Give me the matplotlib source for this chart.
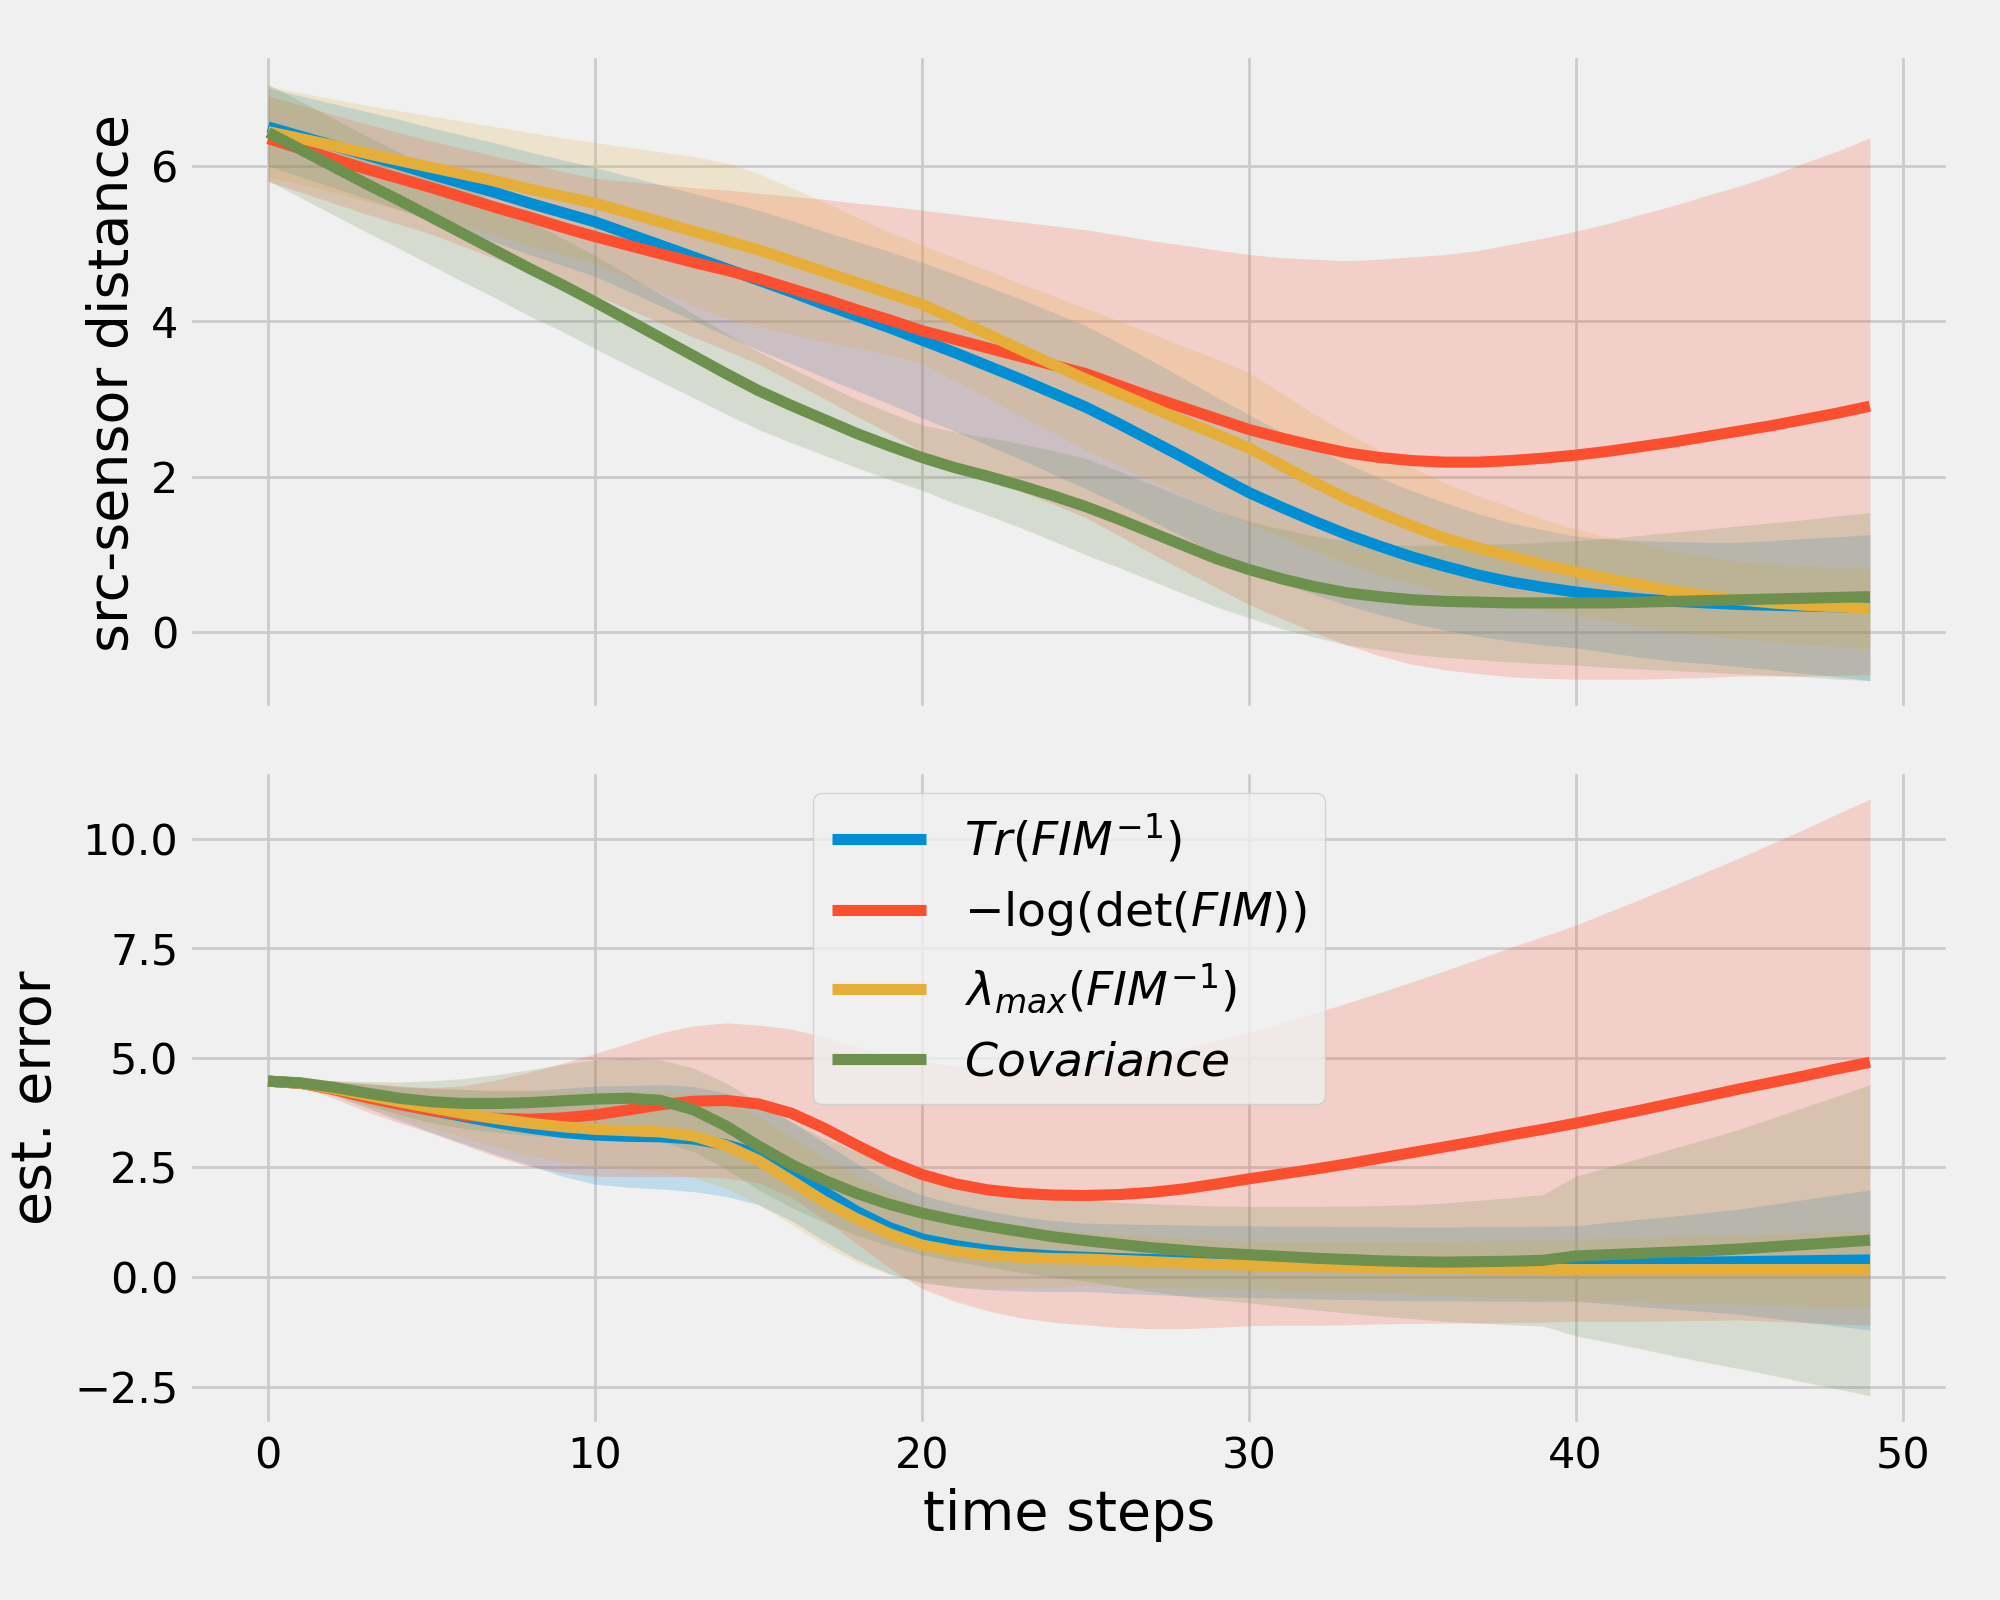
import numpy as np
import matplotlib
matplotlib.use("Agg")
from matplotlib import pyplot as plt

plt.style.use("fivethirtyeight")

###     time axis    ###
steps = np.arange(50)

labels = [r'$Tr(FIM^{-1})$', r'$-\log(\det(FIM))$',
          r'$\lambda_{max}(FIM^{-1})$', r'$Covariance$']

###     src-sensor distance : mean values    ###
dist_tr = [6.50, 6.38, 6.26, 6.14, 6.02, 5.89, 5.77, 5.65, 5.52, 5.40,
           5.28, 5.13, 4.98, 4.83, 4.68, 4.53, 4.38, 4.22, 4.07, 3.92,
           3.76, 3.60, 3.43, 3.26, 3.08, 2.90, 2.69, 2.47, 2.25, 2.02,
           1.80, 1.61, 1.43, 1.26, 1.11, 0.97, 0.85, 0.74, 0.65, 0.58,
           0.52, 0.47, 0.43, 0.40, 0.38, 0.36, 0.35, 0.34, 0.33, 0.32]
dist_det = [6.35, 6.22, 6.09, 5.96, 5.84, 5.72, 5.59, 5.46, 5.34, 5.21,
            5.09, 4.98, 4.87, 4.76, 4.66, 4.55, 4.42, 4.29, 4.15, 4.02,
            3.88, 3.77, 3.66, 3.55, 3.44, 3.33, 3.18, 3.03, 2.89, 2.75,
            2.61, 2.50, 2.40, 2.31, 2.25, 2.21, 2.19, 2.19, 2.21, 2.24,
            2.28, 2.33, 2.39, 2.45, 2.52, 2.59, 2.66, 2.74, 2.82, 2.91]
dist_lam = [6.44, 6.35, 6.26, 6.16, 6.07, 5.98, 5.89, 5.80, 5.70, 5.61,
            5.52, 5.40, 5.28, 5.16, 5.04, 4.92, 4.78, 4.64, 4.50, 4.36,
            4.22, 4.03, 3.84, 3.64, 3.45, 3.26, 3.08, 2.90, 2.72, 2.55,
            2.37, 2.15, 1.93, 1.72, 1.54, 1.37, 1.21, 1.09, 0.98, 0.87,
            0.78, 0.69, 0.61, 0.53, 0.47, 0.42, 0.38, 0.35, 0.33, 0.31]
dist_cov = [6.43, 6.21, 5.99, 5.77, 5.56, 5.34, 5.12, 4.90, 4.68, 4.47,
            4.25, 4.02, 3.79, 3.56, 3.33, 3.11, 2.92, 2.74, 2.56, 2.40,
            2.25, 2.12, 2.01, 1.89, 1.76, 1.62, 1.46, 1.29, 1.12, 0.95,
            0.81, 0.69, 0.59, 0.51, 0.46, 0.42, 0.40, 0.39, 0.38, 0.38,
            0.38, 0.38, 0.39, 0.40, 0.41, 0.42, 0.43, 0.44, 0.45, 0.46]

###     src-sensor distance : std    ###
dist_tr_sd = [0.50, 0.52, 0.54, 0.56, 0.58, 0.60, 0.62, 0.64, 0.66, 0.68,
              0.70, 0.74, 0.78, 0.82, 0.86, 0.90, 0.92, 0.94, 0.96, 0.98,
              1.00, 1.01, 1.02, 1.03, 1.04, 1.05, 1.04, 1.03, 1.02, 1.01,
              1.00, 0.97, 0.94, 0.91, 0.88, 0.85, 0.82, 0.79, 0.76, 0.74,
              0.72, 0.73, 0.75, 0.77, 0.78, 0.80, 0.83, 0.87, 0.90, 0.94]
dist_det_sd = [0.55, 0.56, 0.57, 0.58, 0.59, 0.60, 0.63, 0.66, 0.69, 0.72,
               0.75, 0.82, 0.89, 0.96, 1.03, 1.10, 1.19, 1.28, 1.37, 1.46,
               1.55, 1.61, 1.67, 1.73, 1.79, 1.85, 1.93, 2.01, 2.09, 2.17,
               2.25, 2.32, 2.40, 2.47, 2.55, 2.62, 2.67, 2.72, 2.78, 2.83,
               2.88, 2.93, 2.99, 3.04, 3.10, 3.15, 3.22, 3.30, 3.37, 3.45]
dist_lam_sd = [0.58, 0.59, 0.60, 0.62, 0.64, 0.66, 0.68, 0.70, 0.73, 0.75,
               0.78, 0.84, 0.90, 0.96, 1.00, 0.98, 0.94, 0.90, 0.84, 0.79,
               0.76, 0.79, 0.82, 0.85, 0.88, 0.91, 0.93, 0.95, 0.96, 0.97,
               0.97, 0.93, 0.88, 0.84, 0.80, 0.75, 0.71, 0.67, 0.63, 0.59,
               0.55, 0.54, 0.53, 0.52, 0.51, 0.50, 0.50, 0.51, 0.51, 0.52]
dist_cov_sd = [0.62, 0.62, 0.62, 0.62, 0.62, 0.62, 0.62, 0.61, 0.61, 0.60,
               0.60, 0.58, 0.56, 0.54, 0.52, 0.50, 0.48, 0.46, 0.44, 0.43,
               0.42, 0.46, 0.50, 0.54, 0.58, 0.62, 0.62, 0.62, 0.62, 0.62,
               0.62, 0.64, 0.65, 0.67, 0.68, 0.70, 0.72, 0.74, 0.76, 0.78,
               0.80, 0.83, 0.86, 0.89, 0.92, 0.95, 0.98, 1.01, 1.05, 1.08]

###     estimation error : mean values    ###
err_tr = [4.47, 4.42, 4.30, 4.14, 3.96, 3.80, 3.66, 3.52, 3.40, 3.30,
          3.24, 3.21, 3.20, 3.15, 3.02, 2.80, 2.42, 1.95, 1.50, 1.13,
          0.87, 0.72, 0.61, 0.53, 0.48, 0.45, 0.42, 0.40, 0.38, 0.36,
          0.35, 0.34, 0.33, 0.32, 0.31, 0.30, 0.30, 0.30, 0.30, 0.30,
          0.31, 0.32, 0.32, 0.33, 0.34, 0.35, 0.36, 0.37, 0.38, 0.39]
err_det = [4.47, 4.42, 4.28, 4.10, 3.94, 3.80, 3.69, 3.62, 3.60, 3.63,
           3.70, 3.81, 3.93, 4.01, 4.03, 3.95, 3.74, 3.40, 3.01, 2.64,
           2.34, 2.13, 1.99, 1.91, 1.87, 1.86, 1.88, 1.93, 2.01, 2.12,
           2.24, 2.35, 2.46, 2.58, 2.71, 2.84, 2.97, 3.10, 3.24, 3.37,
           3.51, 3.66, 3.81, 3.97, 4.13, 4.29, 4.44, 4.59, 4.75, 4.90]
err_lam = [4.47, 4.42, 4.30, 4.15, 4.00, 3.86, 3.73, 3.61, 3.51, 3.43,
           3.37, 3.34, 3.31, 3.22, 3.00, 2.66, 2.20, 1.73, 1.33, 0.99,
           0.73, 0.59, 0.50, 0.45, 0.42, 0.41, 0.38, 0.35, 0.32, 0.29,
           0.27, 0.25, 0.24, 0.23, 0.22, 0.21, 0.20, 0.19, 0.18, 0.18,
           0.17, 0.17, 0.17, 0.17, 0.17, 0.17, 0.17, 0.17, 0.17, 0.17]
err_cov = [4.47, 4.43, 4.33, 4.20, 4.08, 4.00, 3.96, 3.96, 3.98, 4.02,
           4.06, 4.08, 4.03, 3.82, 3.45, 2.99, 2.57, 2.21, 1.91, 1.66,
           1.46, 1.30, 1.16, 1.04, 0.92, 0.83, 0.75, 0.67, 0.61, 0.55,
           0.51, 0.47, 0.43, 0.40, 0.37, 0.35, 0.34, 0.35, 0.36, 0.38,
           0.48, 0.51, 0.54, 0.57, 0.60, 0.64, 0.69, 0.74, 0.79, 0.84]

###     estimation error : std    ###
err_tr_sd = [0.00, 0.06, 0.15, 0.27, 0.38, 0.50, 0.62, 0.73, 0.85, 1.00,
             1.12, 1.16, 1.19, 1.20, 1.18, 1.15, 1.13, 1.12, 1.10, 1.05,
             1.00, 0.95, 0.90, 0.85, 0.81, 0.78, 0.79, 0.80, 0.81, 0.81,
             0.82, 0.82, 0.83, 0.83, 0.84, 0.84, 0.84, 0.85, 0.85, 0.86,
             0.86, 0.93, 1.00, 1.06, 1.13, 1.20, 1.30, 1.40, 1.50, 1.60]
err_det_sd = [0.00, 0.08, 0.20, 0.32, 0.42, 0.52, 0.68, 0.88, 1.08, 1.25,
              1.40, 1.52, 1.64, 1.72, 1.77, 1.80, 1.92, 2.08, 2.25, 2.43,
              2.60, 2.68, 2.76, 2.84, 2.90, 2.95, 3.03, 3.11, 3.19, 3.27,
              3.35, 3.45, 3.56, 3.67, 3.78, 3.90, 4.02, 4.15, 4.28, 4.40,
              4.52, 4.67, 4.82, 4.97, 5.12, 5.27, 5.45, 5.63, 5.82, 6.00]
err_lam_sd = [0.00, 0.06, 0.15, 0.26, 0.36, 0.45, 0.55, 0.65, 0.75, 0.80,
              0.85, 0.88, 0.92, 0.95, 0.98, 1.00, 1.00, 1.00, 1.00, 0.93,
              0.85, 0.80, 0.75, 0.70, 0.65, 0.60, 0.59, 0.58, 0.57, 0.56,
              0.55, 0.56, 0.57, 0.58, 0.59, 0.60, 0.62, 0.64, 0.66, 0.68,
              0.70, 0.72, 0.74, 0.76, 0.78, 0.80, 0.82, 0.84, 0.86, 0.88]
err_cov_sd = [0.00, 0.06, 0.15, 0.26, 0.37, 0.48, 0.57, 0.66, 0.75, 0.83,
              0.90, 0.92, 0.93, 0.95, 0.98, 1.00, 0.98, 0.96, 0.95, 0.95,
              0.95, 0.94, 0.93, 0.93, 0.92, 0.92, 0.96, 1.00, 1.04, 1.07,
              1.10, 1.14, 1.18, 1.22, 1.26, 1.30, 1.35, 1.40, 1.45, 1.50,
              1.82, 2.00, 2.18, 2.37, 2.55, 2.73, 2.93, 3.14, 3.34, 3.55]

dist_means = [dist_tr, dist_det, dist_lam, dist_cov]
dist_sds = [dist_tr_sd, dist_det_sd, dist_lam_sd, dist_cov_sd]
err_means = [err_tr, err_det, err_lam, err_cov]
err_sds = [err_tr_sd, err_det_sd, err_lam_sd, err_cov_sd]

fig, (ax1, ax2) = plt.subplots(2, 1, sharex=True, figsize=(10, 8))

for m, s, lab in zip(dist_means, dist_sds, labels):
    m = np.array(m)
    s = np.array(s)
    line, = ax1.plot(steps, m, linewidth=4, label=lab)
    ax1.fill_between(steps, m - s, m + s, color=line.get_color(), alpha=0.2, linewidth=0)

for m, s, lab in zip(err_means, err_sds, labels):
    m = np.array(m)
    s = np.array(s)
    line, = ax2.plot(steps, m, linewidth=4, label=lab)
    ax2.fill_between(steps, m - s, m + s, color=line.get_color(), alpha=0.2, linewidth=0)

ax1.set_ylabel("src-sensor distance", fontsize=20)
ax2.set_ylabel("est. error", fontsize=20)
ax2.set_xlabel("time steps", fontsize=20)
ax2.set_yticks([-2.5, 0.0, 2.5, 5.0, 7.5, 10.0])
ax1.set_yticks([0, 2, 4, 6])
ax2.set_xticks([0, 10, 20, 30, 40, 50])

for ax in (ax1, ax2):
    ax.tick_params(labelsize=15.5)

ax2.legend(loc="upper center", fontsize=17)

fig.subplots_adjust(left=0.094, right=0.975, top=0.966, bottom=0.109, hspace=0.09)
fig.savefig("out.png", dpi=200)
